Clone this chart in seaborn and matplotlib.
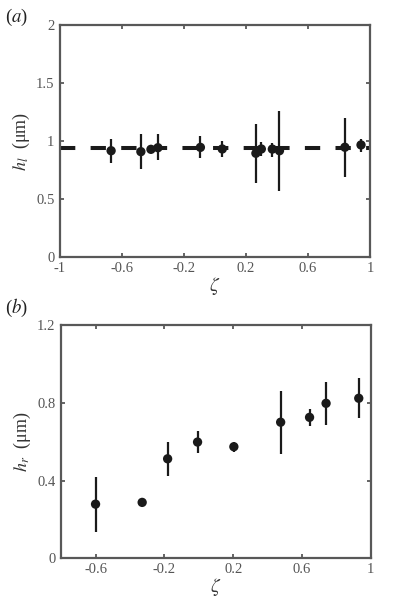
import matplotlib
matplotlib.use('Agg')
import matplotlib.pyplot as plt
import seaborn as sns
import numpy as np
import pandas as pd

# panel (a): h_l vs zeta
zeta_a = [-0.67, -0.478, -0.413, -0.368, -0.094, 0.047, 0.264, 0.299, 0.37, 0.416, 0.838, 0.942]
h_a = [0.916, 0.908, 0.928, 0.942, 0.945, 0.931, 0.894, 0.931, 0.93, 0.916, 0.946, 0.966]
lo_a = [0.81, 0.756, 0.928, 0.833, 0.851, 0.865, 0.635, 0.87, 0.865, 0.569, 0.69, 0.907]
hi_a = [1.02, 1.06, 0.928, 1.058, 1.043, 0.997, 1.15, 0.99, 0.98, 1.26, 1.2, 1.02]
mean_a = 0.937

# panel (b): h_r vs zeta
zeta_b = [-0.6, -0.329, -0.181, -0.007, 0.204, 0.476, 0.644, 0.74, 0.93]
h_b = [0.279, 0.288, 0.512, 0.598, 0.574, 0.70, 0.725, 0.797, 0.823]
lo_b = [0.137, 0.288, 0.423, 0.54, 0.548, 0.537, 0.68, 0.686, 0.72]
hi_b = [0.42, 0.288, 0.60, 0.656, 0.60, 0.862, 0.77, 0.908, 0.929]

xticks_a = [-1, -0.6, -0.2, 0.2, 0.6, 1]
yticks_a = [0, 0.5, 1, 1.5, 2]
xticks_b = [-0.6, -0.2, 0.2, 0.6, 1]
yticks_b = [0, 0.4, 0.8, 1.2]

sns.set_theme(style='ticks')
plt.rcParams['font.family'] = ['Liberation Serif', 'DejaVu Serif']
plt.rcParams['mathtext.fontset'] = 'stix'

grey = '#585858'

def style_axis(ax, xt, yt, xlim, ylim):
    ax.set_xlim(*xlim)
    ax.set_ylim(*ylim)
    ax.set_xticks(xt)
    ax.set_yticks(yt)
    ax.set_xticklabels(['%g' % v for v in xt])
    ax.set_yticklabels(['%g' % v for v in yt])
    ax.tick_params(direction='in', length=3, width=1.3, color=grey, labelcolor='#555555',
                   labelsize=10.5, top=True, right=True)
    ax.tick_params(axis='x', pad=3.5)
    ax.tick_params(axis='y', pad=4)
    for s in ax.spines.values():
        s.set_visible(True)
        s.set_color(grey)
        s.set_linewidth(1.6)

def draw(ax, z, h, lo, hi):
    ax.vlines(z, lo, hi, color='#1a1a1a', lw=1.6, zorder=3)
    sns.scatterplot(x=z, y=h, ax=ax, color='#1a1a1a', s=45, edgecolor='none', zorder=4)

fig = plt.figure(figsize=(3.97, 6.13), dpi=100)
ax1 = fig.add_axes([0.151, 0.581, 0.781, 0.378])
ax2 = fig.add_axes([0.154, 0.089, 0.780, 0.381])

ax1.axhline(mean_a, color='#1a1a1a', lw=2.9, ls=(0, (3.8, 3.8)), zorder=2)
draw(ax1, zeta_a, h_a, lo_a, hi_a)
style_axis(ax1, xticks_a, yticks_a, (-1, 1), (0, 2))
ax1.set_xlabel(r'$\zeta$', fontsize=14, color='#333333', labelpad=0)
ax1.set_ylabel(r'$h_l$  (μm)', fontsize=13, color='#333333', labelpad=3)

draw(ax2, zeta_b, h_b, lo_b, hi_b)
style_axis(ax2, xticks_b, yticks_b, (-0.8, 1), (0, 1.2))
ax2.set_xlabel(r'$\zeta$', fontsize=14, color='#333333', labelpad=0)
ax2.set_ylabel(r'$h_r$  (μm)', fontsize=13, color='#333333', labelpad=3)

fig.text(0.012, 0.972, r'($a$)', fontsize=13.5, color='#222222', va='center')
fig.text(0.012, 0.497, r'($b$)', fontsize=13.5, color='#222222', va='center')

fig.savefig('out.png', dpi=100)
